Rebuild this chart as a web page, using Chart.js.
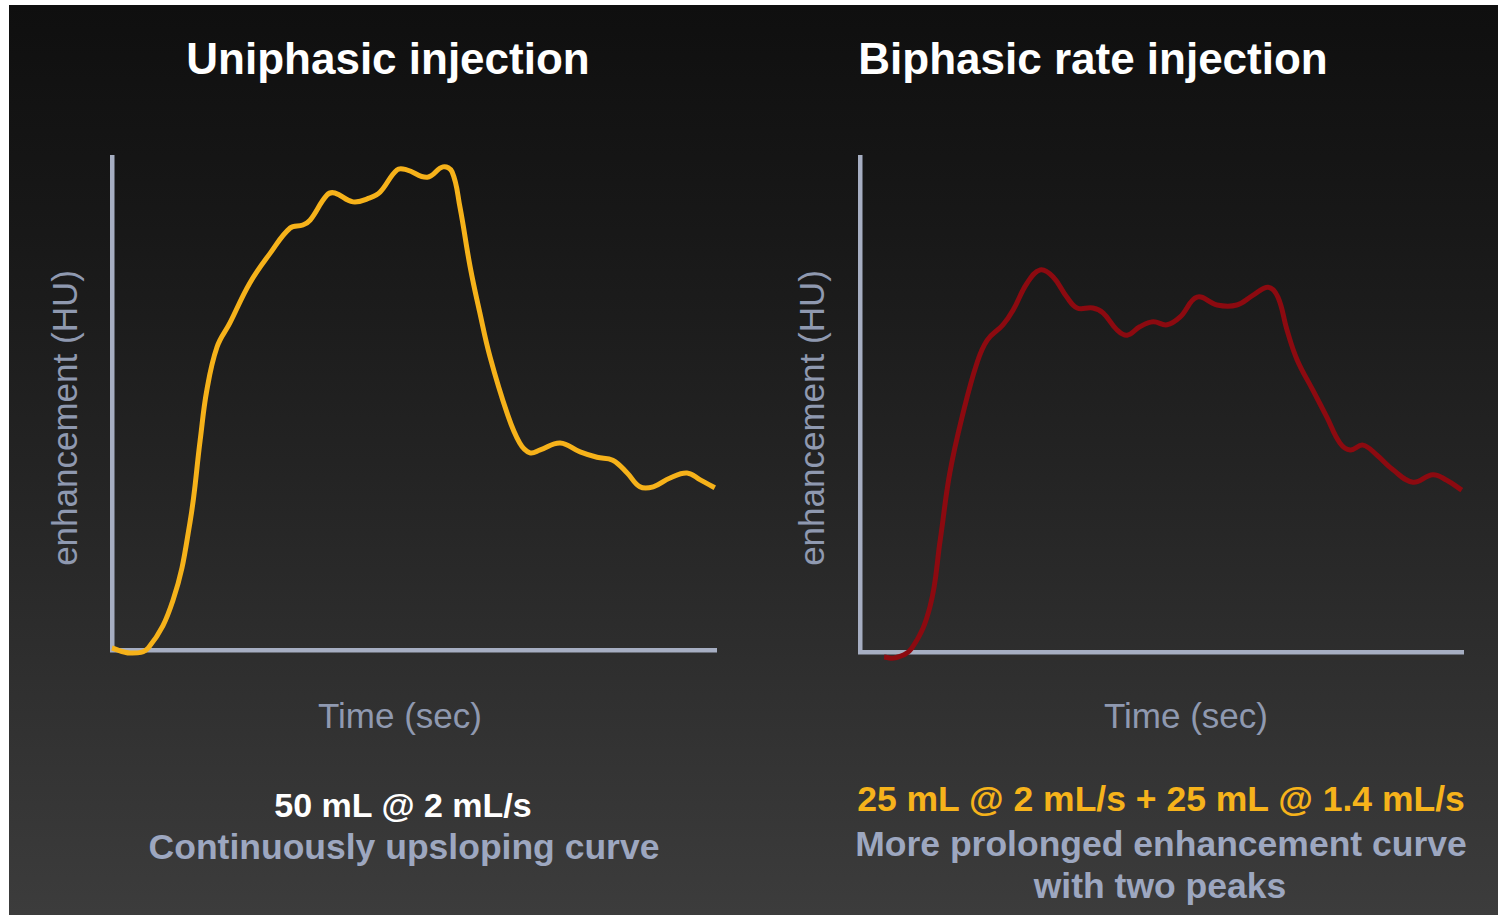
<!DOCTYPE html>
<html>
<head>
<meta charset="utf-8">
<script src="https://cdn.jsdelivr.net/npm/chart.js@4.4.1/dist/chart.umd.min.js"></script>
<style>
  html, body { margin: 0; padding: 0; background: #ffffff; }
  body { width: 1498px; height: 915px; position: relative; overflow: hidden; font-family: "Liberation Sans", Arial, sans-serif; }
  #panel {
    position: absolute; left: 9px; top: 5px; width: 1489px; height: 910px;
    background: linear-gradient(to bottom, #0f0f0f 0%, #181818 25%, #232323 50%, #2e2e2e 72%, #3c3c3c 100%);
  }
  canvas { position: absolute; }
  .txt {
    position: absolute; white-space: nowrap; line-height: 1;
    transform: translate(-50%, -50%);
  }
  .title { font-size: 44px; font-weight: bold; color: #ffffff; }
  .axis { font-size: 35px; color: #8f99b0; }
  .cap { font-size: 35.5px; font-weight: bold; color: #9da7c0; }
  .white { color: #ffffff; font-size: 34px; }
  .orange { color: #f6b31b; }
  .rot { transform: translate(-50%, -50%) rotate(-90deg); }
</style>
</head>
<body>
<div id="panel"></div>

<canvas id="uni" width="644" height="533" style="left:92px; top:137px;"></canvas>
<canvas id="bi" width="643" height="535" style="left:840px; top:137px;"></canvas>

<div class="txt title" style="left:388px; top:59px;">Uniphasic injection</div>
<div class="txt title" style="left:1093px; top:59px;">Biphasic rate injection</div>

<div class="txt axis rot" style="left:64px; top:418px;">enhancement (HU)</div>
<div class="txt axis rot" style="left:811px; top:418px;">enhancement (HU)</div>

<div class="txt axis" style="left:400px; top:715px;">Time (sec)</div>
<div class="txt axis" style="left:1186px; top:715px;">Time (sec)</div>

<div class="txt cap white" style="left:403px; top:805px;">50 mL @ 2 mL/s</div>
<div class="txt cap" style="left:404px; top:848px;">Continuously upsloping curve</div>

<div class="txt cap orange" style="left:1161px; top:800px;">25 mL @ 2 mL/s + 25 mL @ 1.4 mL/s</div>
<div class="txt cap" style="left:1161px; top:845px;">More prolonged enhancement curve</div>
<div class="txt cap" style="left:1160px; top:887px;">with two peaks</div>

<script>
// Uniphasic injection: time (relative units, 0-100) and enhancement (relative HU, 0-100)
const uniTime = [0, 3.0, 6.0, 10.1, 12.9, 14.6, 15.7, 17.4, 19.5, 22.8, 26.2, 29.5, 31.6, 32.8, 35.6, 36.9,
  39.9, 42.7, 44.4, 47.2, 48.8, 52.2, 54.8, 56.3, 57.6, 59.3, 60.9, 62.6, 65.4, 67.5, 69.2, 70.9,
  74.2, 77.5, 80.3, 82.9, 85.3, 87.4, 89.6, 92.4, 95.2, 97.4, 99.8];
const uniHU = [0.4, -0.6, 0.4, 10.1, 25.8, 42.6, 52.7, 61.5, 66.3, 74.4, 80.5, 85.6, 86.2, 87.2, 92.3, 92.7,
  90.9, 91.7, 92.9, 97.4, 97.4, 95.9, 98.0, 97.0, 89.9, 77.7, 68.4, 59.4, 48.1, 42.0, 40.0, 40.6,
  42.0, 40.2, 39.1, 38.5, 35.9, 33.1, 33.1, 34.9, 35.9, 34.5, 32.9];

// Biphasic rate injection
const biTime = [4.0, 5.8, 8.6, 11.6, 13.3, 14.9, 17.1, 19.4, 21.1, 23.7, 25.4, 27.7, 29.9, 32.0, 34.3, 36.0,
  38.6, 40.3, 42.6, 44.3, 46.4, 48.6, 50.9, 53.1, 55.9, 59.2, 62.5, 65.2, 67.7, 69.3, 70.8, 72.5,
  75.1, 77.4, 79.6, 81.3, 83.4, 85.7, 88.4, 91.7, 95.0, 97.3, 99.8];
const biHU = [-1.0, -1.2, 0.8, 9.1, 22.6, 36.2, 48.3, 58.4, 63.0, 66.1, 69.1, 74.5, 77.2, 75.8, 71.7, 69.5,
  69.5, 68.5, 65.1, 64.0, 65.7, 66.7, 66.1, 67.7, 71.7, 70.1, 70.1, 72.1, 73.7, 71.7, 65.1, 59.0,
  52.9, 47.5, 42.2, 40.8, 41.8, 39.8, 36.8, 34.3, 35.8, 34.7, 32.7];

const AXIS_COLOR = '#a6aec2';

function toPoints(xs, ys) {
  return xs.map((x, i) => ({ x: x, y: ys[i] }));
}

function curveChart(id, xs, ys, color, width) {
  const axis = {
    type: 'linear', min: 0, max: 100,
    grid: { display: false, drawTicks: false },
    ticks: { display: false },
    border: { display: true, color: AXIS_COLOR, width: 4.5 }
  };
  return new Chart(document.getElementById(id), {
    type: 'line',
    data: {
      datasets: [{
        data: toPoints(xs, ys),
        borderColor: color,
        borderWidth: width,
        pointRadius: 0,
        tension: 0.4,
        fill: false,
        clip: false
      }]
    },
    options: {
      responsive: false,
      animation: false,
      events: [],
      layout: { padding: 20 },
      plugins: { legend: { display: false }, tooltip: { enabled: false } },
      scales: { x: Object.assign({}, axis), y: Object.assign({}, axis) }
    }
  });
}

curveChart('uni', uniTime, uniHU, '#f6b21a', 5);
curveChart('bi', biTime, biHU, '#8c0a10', 5);
</script>
</body>
</html>
